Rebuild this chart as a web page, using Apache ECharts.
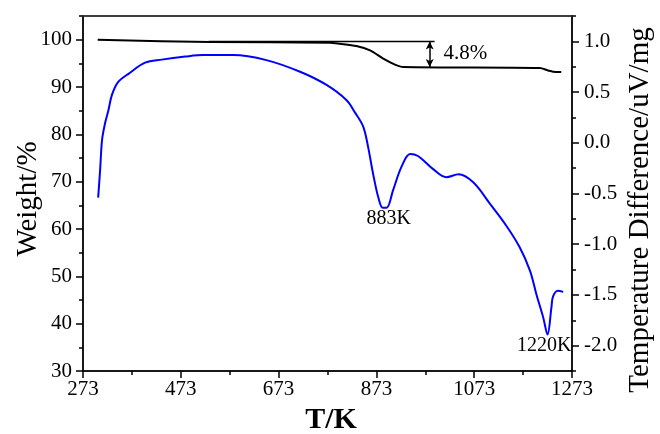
<!DOCTYPE html>
<html>
<head>
<meta charset="utf-8">
<script src="https://cdn.jsdelivr.net/npm/echarts@6/dist/echarts.min.js"></script>
<style>
  html, body { margin: 0; padding: 0; background: #fff; }
  #chart { width: 660px; height: 434px; }
</style>
</head>
<body>
<div id="chart"></div>
<script>
// axis ticks
const weightTicks = [30, 40, 50, 60, 70, 80, 90, 100];
const weightMinor = [35, 45, 55, 65, 75, 85, 95, 105];
const dtaTicks = [-2, -1.5, -1, -0.5, 0, 0.5, 1];
const dtaMinor = [-2.25, -1.75, -1.25, -0.75, -0.25, 0.25, 0.75, 1.25];

// TG curve (weight, left axis)
const tgTemp = [303, 533, 778, 798, 832, 860, 887, 911, 928, 1207, 1224, 1234, 1251];
const tgWeight = [100.0, 99.5, 99.37, 99.15, 98.65, 97.74, 95.99, 94.72, 94.21, 94.0, 93.5, 93.24, 93.16];

// DTA curve (temperature difference, right axis)
const dtaTemp = [304, 308, 312, 318, 325, 332, 345, 366, 400, 434, 482, 519, 580, 648, 717, 771, 812, 829, 846, 856,
  866, 877, 886, 894, 907, 924, 942, 958, 989, 1016, 1041, 1071, 1105, 1139, 1166, 1187, 1200, 1214, 1223, 1231,
  1234, 1244, 1255];
const dtaValue = [-0.54, -0.27, 0.03, 0.19, 0.32, 0.47, 0.60, 0.68, 0.79, 0.82, 0.85, 0.865, 0.865, 0.815, 0.70, 0.57, 0.42, 0.30, 0.16, -0.04,
  -0.30, -0.54, -0.64, -0.64, -0.47, -0.24, -0.11, -0.13, -0.26, -0.34, -0.31, -0.39, -0.60, -0.82, -1.03, -1.26, -1.49, -1.72, -1.89, -1.62,
  -1.52, -1.46, -1.47];

// weight loss step marker
const stepRefTemp = [530, 992];
const stepTop = 99.6;
const stepBottom = 94.2;
const stepArrowTemp = 982;
const stepText = ['4.8%'];
const stepTextPos = [1055, 97.0];

// peak labels
const peakTemp = [898, 1216];
const peakValue = [-0.75, -2.0];
const peakText = ['883K', '1220K'];

const tempMin = 273, tempMax = 1273;
const weightMin = 30, weightMax = 105;
const font = '"Liberation Serif", "Times New Roman", serif';
const black = '#000';
const gridBox = { left: 83, right: 88, top: 16, bottom: 63 };

const chart = echarts.init(document.getElementById('chart'));

function tickAxis(pos, min, max, ticks, len, showLine, labels) {
  return {
    type: 'value',
    position: pos,
    min: min,
    max: max,
    axisLine: { show: showLine, onZero: false, lineStyle: { color: black, width: 1.5 } },
    axisTick: { show: true, customValues: ticks, length: len, lineStyle: { color: black, width: 1.5 } },
    axisLabel: labels ? {
      show: true,
      customValues: ticks,
      fontFamily: font,
      fontSize: 21,
      color: black,
      margin: pos === 'left' ? 11 : 12,
      formatter: pos === 'left' ? v => String(v) : v => v.toFixed(1)
    } : { show: false },
    splitLine: { show: false }
  };
}

chart.setOption({
  animation: false,
  grid: Object.assign({ show: true, borderColor: '#333', borderWidth: 1.5, backgroundColor: 'transparent' }, gridBox),
  graphic: [
    {
      type: 'line', z: 100,
      shape: { x1: gridBox.left - 3, y1: gridBox.top, x2: 660 - gridBox.right, y2: gridBox.top },
      style: { stroke: '#333', lineWidth: 1.5 }
    },
    {
      type: 'text', x: 28, y: 199, rotation: Math.PI / 2,
      style: { text: 'Weight/%', font: '29px ' + font, fill: black, textAlign: 'center', textVerticalAlign: 'middle' }
    },
    {
      type: 'text', x: 640, y: 210, rotation: Math.PI / 2,
      style: { text: 'Temperature Difference/uV/mg', font: '29px ' + font, fill: black, textAlign: 'center', textVerticalAlign: 'middle' }
    },
    {
      type: 'text', x: 331, y: 420,
      style: { text: 'T/K', font: 'bold 30px ' + font, fill: black, textAlign: 'center', textVerticalAlign: 'middle' }
    }
  ],
  xAxis: [
    {
      type: 'value',
      position: 'bottom',
      min: tempMin,
      max: tempMax,
      interval: 200,
      axisLine: { show: true, onZero: false, lineStyle: { color: black, width: 1.5 } },
      axisTick: { show: true, length: 7, lineStyle: { color: black, width: 1.5 } },
      minorTick: { show: true, splitNumber: 2, length: 4, lineStyle: { color: black, width: 1.5 } },
      axisLabel: { fontFamily: font, fontSize: 21, color: black, margin: 8, formatter: v => String(v) },
      splitLine: { show: false }
    }
  ],
  yAxis: [
    tickAxis('left', weightMin, weightMax, weightTicks, 7, true, true),
    tickAxis('right', -2.25, 1.25, dtaTicks, 7, true, true),
    tickAxis('left', weightMin, weightMax, weightMinor, 4, false, false),
    tickAxis('right', -2.25, 1.25, dtaMinor, 4, false, false)
  ],
  series: [
    {
      name: 'DTA',
      type: 'line',
      yAxisIndex: 1,
      showSymbol: false,
      smooth: 0.35,
      lineStyle: { color: '#0000ff', width: 2 },
      data: dtaTemp.map((t, i) => [t, dtaValue[i]])
    },
    {
      name: 'TG',
      type: 'line',
      yAxisIndex: 0,
      showSymbol: false,
      smooth: 0.3,
      lineStyle: { color: black, width: 2 },
      data: tgTemp.map((t, i) => [t, tgWeight[i]])
    },
    {
      name: 'step',
      type: 'line',
      yAxisIndex: 0,
      showSymbol: false,
      lineStyle: { color: black, width: 1.5 },
      data: stepRefTemp.map(t => [t, stepTop]),
      markLine: {
        silent: true,
        symbol: ['arrow', 'arrow'],
        symbolSize: [6, 8],
        label: { show: false },
        lineStyle: { color: black, width: 1.5, type: 'solid' },
        data: [[{ coord: [stepArrowTemp, stepTop] }, { coord: [stepArrowTemp, stepBottom] }]]
      }
    },
    {
      name: 'stepLabel',
      type: 'scatter',
      yAxisIndex: 0,
      symbolSize: 0,
      itemStyle: { opacity: 1 },
      label: {
        show: true, position: 'inside', fontFamily: font, fontSize: 21, color: black,
        formatter: p => stepText[p.dataIndex]
      },
      data: [stepTextPos]
    },
    {
      name: 'peaks',
      type: 'scatter',
      yAxisIndex: 1,
      symbolSize: 0,
      itemStyle: { opacity: 1 },
      label: {
        show: true, position: 'inside', fontFamily: font, fontSize: 20, color: black,
        formatter: p => peakText[p.dataIndex]
      },
      data: peakTemp.map((t, i) => [t, peakValue[i]])
    }
  ]
});
</script>
</body>
</html>
